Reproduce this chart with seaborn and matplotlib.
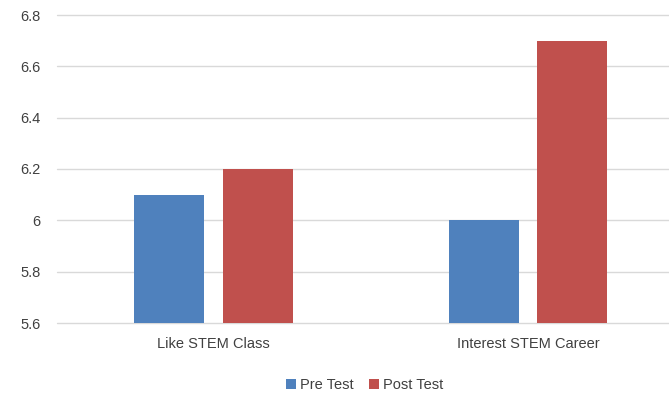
import matplotlib
matplotlib.use("Agg")
import matplotlib.pyplot as plt
import seaborn as sns
import pandas as pd
from matplotlib.patches import Patch

categories = ["Like STEM Class", "Interest STEM Career"]
series_names = ["Pre Test", "Post Test"]
pre_test = [6.1, 6.0]
post_test = [6.2, 6.7]
y_ticks = [5.6, 5.8, 6.0, 6.2, 6.4, 6.6, 6.8]
y_tick_labels = ["5.6", "5.8", "6", "6.2", "6.4", "6.6", "6.8"]
colors = ["#4F81BD", "#C0504D"]

df = pd.DataFrame({
    "category": categories * 2,
    "series": [series_names[0]] * 2 + [series_names[1]] * 2,
    "value": pre_test + post_test,
})

sns.set_theme(style="white")
plt.rcParams["font.family"] = ["Liberation Sans", "DejaVu Sans"]

fig = plt.figure(figsize=(6.69, 3.96), dpi=100)
ax = fig.add_axes([57 / 669, 1 - 323 / 396, 1 - 57 / 669, (323 - 15) / 396])

sns.barplot(data=df, x="category", y="value", hue="series", order=categories,
            hue_order=series_names, palette=colors, width=0.563, gap=0.21,
            ax=ax, legend=False, saturation=1, linewidth=0, edgecolor="none")

ax.set_ylim(5.6, 6.8)
ax.set_xlim(-0.498, 1.448)
ax.set_yticks(y_ticks)
ax.set_yticklabels(y_tick_labels)
ax.yaxis.grid(True, color="#D9D9D9", linewidth=1)
for gl in ax.get_ygridlines():
    gl.set_clip_on(False)
ax.set_axisbelow(True)
for s in ax.spines.values():
    s.set_visible(False)
ax.set_xlabel("")
ax.set_ylabel("")
ax.tick_params(axis="both", length=0, labelsize=10.5, colors="#404040")
ax.tick_params(axis="y", pad=12)
ax.tick_params(axis="x", pad=10)

handles = [Patch(facecolor=c, edgecolor="none") for c in colors]
fig.legend(handles, series_names, loc="center", bbox_to_anchor=(0.545, 0.027),
           ncol=2, frameon=False, fontsize=10.5, handlelength=0.7, handleheight=0.7,
           handletextpad=0.3, columnspacing=1.0, labelcolor="#404040")

fig.savefig("out.png", dpi=100)
